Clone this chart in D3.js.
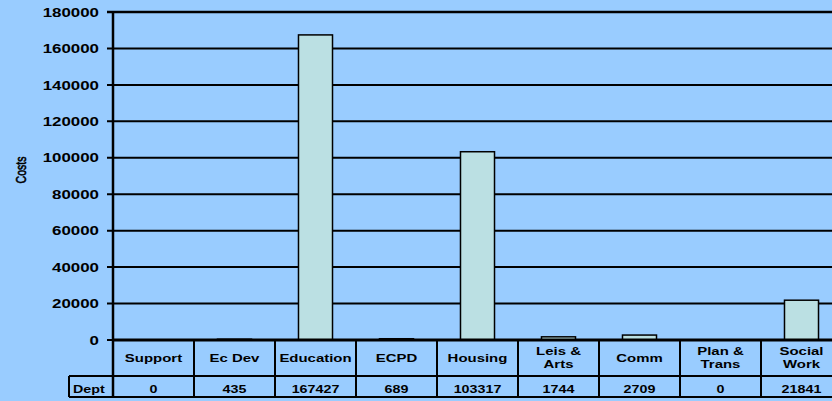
<!DOCTYPE html>
<html>
<head>
<meta charset="utf-8">
<script src="https://cdn.jsdelivr.net/npm/d3@7"></script>
<style>
  body { margin: 0; background: #99ccff; }
  text { font-family: "Liberation Sans", Arial, sans-serif; }
</style>
</head>
<body>
<div id="main"></div>
<script>
// departments (line breaks as in the table row)
const categories = ['Support', 'Ec Dev', 'Education', 'ECPD', 'Housing', 'Leis &\nArts', 'Comm', 'Plan &\nTrans', 'Social\nWork'];
const costs = [0, 435, 167427, 689, 103317, 1744, 2709, 0, 21841];
const yTicks = [0, 20000, 40000, 60000, 80000, 100000, 120000, 140000, 160000, 180000];
const rowLabel = 'Dept';
const yTitle = 'Costs';

const width = 832, height = 401;
const plotLeft = 113, plotRight = 842, plotTop = 12, zero = 340;
const catRowBottom = 376, valRowBottom = 397, deptLeft = 69;
const stretch = 1.3; // the text in the picture is drawn wide

let svg = d3.select('#main')
    .append('svg')
        .attr('width', width)
        .attr('height', height)
        .style('display', 'block');

svg.append('rect').attr('width', width).attr('height', height).attr('fill', '#99ccff');

const x = d3.scaleBand().domain(categories).range([plotLeft, plotRight]).padding(0);
const y = d3.scaleLinear().domain([0, 180000]).range([zero, plotTop]);

// gridlines + tick marks
svg.selectAll('.grid')
    .data(yTicks.filter(d => d > 0))
    .enter()
    .append('line')
        .attr('x1', plotLeft - 6)
        .attr('x2', plotRight)
        .attr('y1', d => y(d))
        .attr('y2', d => y(d))
        .attr('stroke', '#000')
        .attr('stroke-width', d => d === 180000 ? 2.5 : 2);

svg.append('line').attr('x1', plotLeft - 6).attr('x2', plotLeft).attr('y1', zero).attr('y2', zero)
    .attr('stroke', '#000').attr('stroke-width', 2);

// tick labels
svg.selectAll('.ytick')
    .data(yTicks)
    .enter()
    .append('text')
        .attr('transform', d => `translate(99,${y(d) + 4.7}) scale(${stretch},1)`)
        .attr('text-anchor', 'end')
        .attr('font-size', 13)
        .attr('font-weight', 'bold')
        .attr('fill', '#000')
        .text(d => d);

// y title (rotated, so the wide look becomes a thick look)
svg.append('text')
    .attr('transform', `translate(25.5,170) rotate(-90) scale(1,1.35)`)
    .attr('text-anchor', 'middle')
    .attr('font-size', 10.5)
    .attr('fill', '#000')
    .attr('stroke', '#000')
    .attr('stroke-width', 0.45)
    .text(yTitle);

// bars
const barW = x.bandwidth() * 0.42;
svg.selectAll('.bar')
    .data(categories.map((c, i) => ({ c: c, v: costs[i] })).filter(d => d.v > 0))
    .enter()
    .append('rect')
        .attr('x', d => x(d.c) + (x.bandwidth() - barW) / 2)
        .attr('y', d => y(d.v))
        .attr('width', barW)
        .attr('height', d => zero - y(d.v))
        .attr('fill', '#bbe0e3')
        .attr('stroke', '#000')
        .attr('stroke-width', 1.5);

// axis line and zero line
svg.append('line').attr('x1', plotLeft).attr('x2', plotLeft).attr('y1', plotTop - 1).attr('y2', valRowBottom)
    .attr('stroke', '#000').attr('stroke-width', 2.5);
svg.append('line').attr('x1', plotLeft).attr('x2', plotRight).attr('y1', zero).attr('y2', zero)
    .attr('stroke', '#000').attr('stroke-width', 3);

// data table
svg.selectAll('.hrow')
    .data([catRowBottom, valRowBottom])
    .enter()
    .append('line')
        .attr('x1', deptLeft)
        .attr('x2', plotRight)
        .attr('y1', d => d)
        .attr('y2', d => d)
        .attr('stroke', '#000')
        .attr('stroke-width', 2);

svg.selectAll('.vcol')
    .data(categories.slice(1))
    .enter()
    .append('line')
        .attr('x1', d => x(d))
        .attr('x2', d => x(d))
        .attr('y1', zero)
        .attr('y2', valRowBottom)
        .attr('stroke', '#000')
        .attr('stroke-width', 2);

svg.append('line').attr('x1', deptLeft).attr('x2', deptLeft).attr('y1', catRowBottom).attr('y2', valRowBottom)
    .attr('stroke', '#000').attr('stroke-width', 2);

svg.append('text')
    .attr('transform', `translate(73,${valRowBottom - 4}) scale(${stretch},1)`)
    .attr('font-size', 11)
    .attr('font-weight', 'bold')
    .text(rowLabel);

// category names
categories.forEach(c => {
    const lines = c.split('\n');
    const cx = x(c) + x.bandwidth() / 2;
    lines.forEach((ln, j) => {
        const by = lines.length === 1 ? 362 : 355 + j * 13;
        svg.append('text')
            .attr('transform', `translate(${cx},${by}) scale(${stretch},1)`)
            .attr('text-anchor', 'middle')
            .attr('font-size', 11.5)
            .attr('font-weight', 'bold')
            .text(ln);
    });
});

// values row
svg.selectAll('.val')
    .data(categories.map((c, i) => ({ c: c, v: costs[i] })))
    .enter()
    .append('text')
        .attr('transform', d => `translate(${x(d.c) + x.bandwidth() / 2},${valRowBottom - 4}) scale(${stretch},1)`)
        .attr('text-anchor', 'middle')
        .attr('font-size', 11)
        .attr('font-weight', 'bold')
        .text(d => d.v);
</script>
</body>
</html>
